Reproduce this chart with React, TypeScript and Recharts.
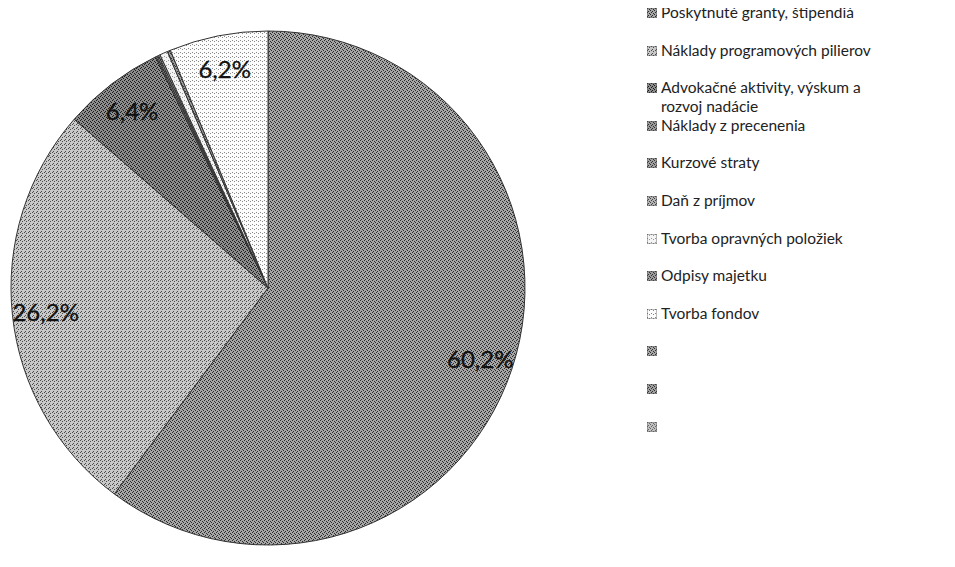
import React from "react";
import { PieChart, Pie, Cell, Legend } from "recharts";

// kategórie a podiely (%) podľa obrázka
const categories = [
  "Poskytnuté granty, štipendiá",
  "Náklady programových pilierov",
  "Advokačné aktivity, výskum a rozvoj nadácie",
  "Náklady z precenenia",
  "Kurzové straty",
  "Daň z príjmov",
  "Tvorba opravných položiek",
  "Odpisy majetku",
  "Tvorba fondov",
  "",
  "",
  "",
];
const shares = [60.2, 26.2, 6.4, 0.1, 0.1, 0.1, 0.5, 0.2, 6.2, 0, 0, 0];
const labelled = ["60,2%", "26,2%", "6,4%", "", "", "", "", "", "6,2%", "", "", ""];

const bases = ["#a6a6a6", "#c8c8c8", "#8c8c8c", "#9a9a9a", "#a0a0a0", "#b4b4b4", "#f4f4f4", "#9c9c9c", "#fcfcfc", "#a8a8a8", "#a0a0a0", "#c0c0c0"];
const dots = ["#2a2a2a", "#4a4a4a", "#1a1a1a", "#333", "#333", "#444", "#999", "#333", "#888", "#333", "#333", "#666"];
const fills = bases.map((_, i) => `url(#p${i})`);

const data = categories.map((name, i) => ({ name, value: shares[i], label: labelled[i], i }));
const pieData = data.filter((d) => d.value > 0);

const FONT = "Lato, 'Open Sans', sans-serif";
const RAD = Math.PI / 180;

function PctLabel(p: any) {
  const { cx, cy, midAngle, outerRadius, payload } = p;
  if (!payload.label) return null;
  const r = outerRadius * 0.87;
  const x = cx + r * Math.cos(-midAngle * RAD);
  const y = cy + r * Math.sin(-midAngle * RAD);
  return (
    <text x={x} y={y} textAnchor="middle" dominantBaseline="central"
      fontFamily={FONT} fontSize={24} fill="#111" stroke="#111" strokeWidth={0.3}>
      {payload.label}
    </text>
  );
}

function LegendBox() {
  return (
    <div style={{ position: "relative", width: 300, height: 440, fontFamily: FONT, fontSize: 15.5, color: "#222", lineHeight: "19px" }}>
      {data.map((d) => (
        <div key={d.i} style={{ position: "absolute", left: 0, top: d.i * 37.6, display: "flex", alignItems: "flex-start" }}>
          <svg width={10} height={10} style={{ marginTop: 5, marginRight: 4, flex: "none" }}>
            <rect x={0} y={0} width={10} height={10} fill={fills[d.i]} stroke="#555" strokeWidth={0.8} />
          </svg>
          <span style={{ width: 225 }}>{d.name}</span>
        </div>
      ))}
    </div>
  );
}

export default function App() {
  return (
    <div style={{ width: 939, height: 551, position: "relative" }}>
      <PieChart width={939} height={551}>
        <defs>
          {bases.map((b, i) => (
            <pattern key={i} id={`p${i}`} width={4} height={4} patternUnits="userSpaceOnUse">
              <rect width={4} height={4} fill={b} />
              <rect x={0} y={0} width={1} height={1} fill={dots[i]} />
              <rect x={2} y={1} width={1} height={1} fill={dots[i]} />
              {i !== 8 && i !== 6 && <rect x={1} y={3} width={1} height={1} fill={dots[i]} />}
              {i !== 8 && i !== 6 && i !== 1 && <rect x={3} y={2} width={1} height={1} fill={dots[i]} />}
            </pattern>
          ))}
        </defs>
        <Pie
          data={pieData}
          dataKey="value"
          nameKey="name"
          cx={255}
          cy={275}
          outerRadius={257}
          startAngle={90}
          endAngle={-270}
          stroke="#333"
          strokeWidth={1}
          label={PctLabel}
          labelLine={false}
          isAnimationActive={false}
        >
          {pieData.map((d) => (
            <Cell key={d.i} fill={fills[d.i]} />
          ))}
        </Pie>
        <Legend
          layout="vertical"
          verticalAlign="top"
          align="right"
          wrapperStyle={{ top: -5, left: 639, width: 300 }}
          content={() => <LegendBox />}
        />
      </PieChart>
    </div>
  );
}
